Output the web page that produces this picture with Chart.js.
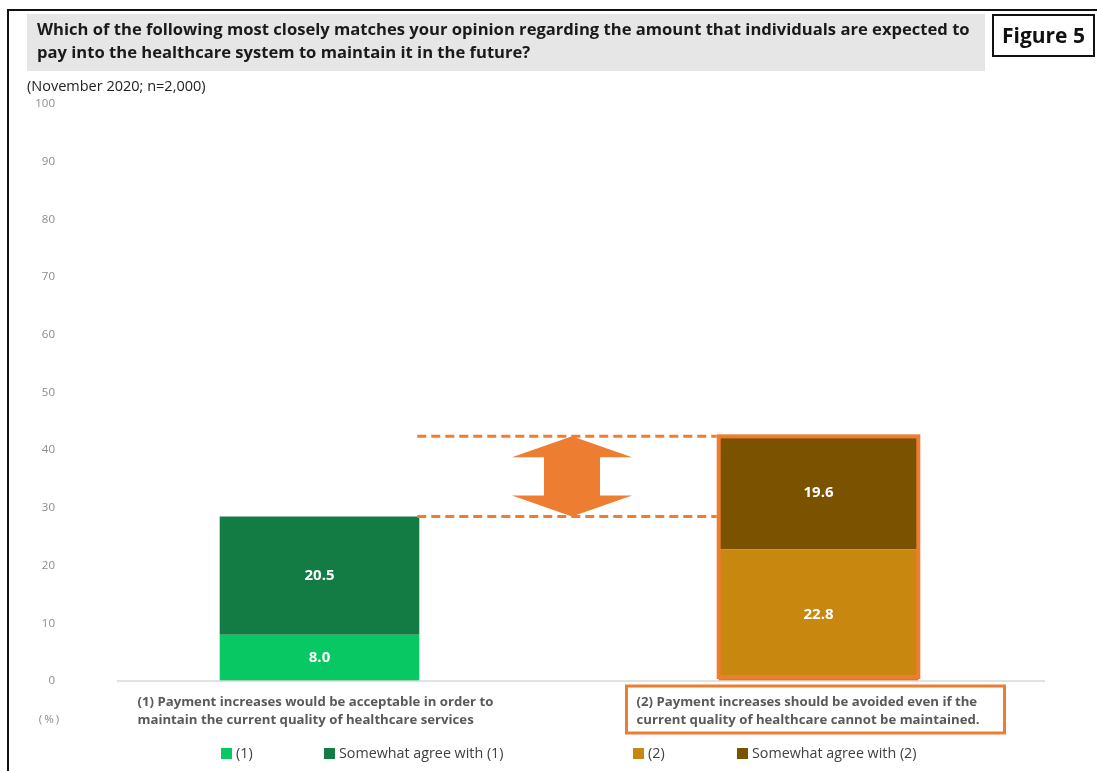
<!DOCTYPE html>
<html>
<head>
<meta charset="utf-8">
<script src="https://cdn.jsdelivr.net/npm/chart.js@4.4.1/dist/chart.umd.min.js"></script>
<style>
  html, body { margin: 0; padding: 0; background: #fff; }
  body { width: 1097px; height: 771px; position: relative; overflow: hidden; font-family: 'Open Sans', Lato, sans-serif; }
  #chartBox { position: absolute; left: 0; top: 0; width: 1097px; height: 771px; }
  #frame { position: absolute; left: 7px; top: 9px; width: 1100px; height: 780px; border-left: 2px solid #111; border-top: 2px solid #111; }
  #title { position: absolute; left: 27px; top: 14px; width: 958px; height: 57px; box-sizing: border-box; background: #E7E6E6;
           padding: 3px 0 0 10px; font-weight: bold; font-size: 16.6px; line-height: 23px; color: #1a1a1a; white-space: nowrap; }
  #fig { position: absolute; left: 992px; top: 14px; width: 103px; height: 43px; box-sizing: border-box; border: 2px solid #111;
         font-weight: bold; font-size: 21px; line-height: 39px; text-align: center; color: #111; }
  #sub { position: absolute; left: 27px; top: 76px; font-size: 14.5px; color: #222; }
</style>
</head>
<body>
<div id="chartBox"><canvas id="chart" width="1097" height="771"></canvas></div>
<div id="frame"></div>
<div id="title">Which of the following most closely matches your opinion regarding the amount that individuals are expected to<br>pay into the healthcare system to maintain it in the future?</div>
<div id="fig">Figure 5</div>
<div id="sub">(November 2020; n=2,000)</div>

<script>
// ---------------- Data ----------------
const categories = [
  ['(1) Payment increases would be acceptable in order to', 'maintain the current quality of healthcare services'],
  ['(2) Payment increases should be avoided even if the', 'current quality of healthcare cannot be maintained.']
];
const seriesNames = ['(1)', 'Somewhat agree with (1)', '(2)', 'Somewhat agree with (2)'];
const agreeOne = [8.0, null];
const somewhatOne = [20.5, null];
const agreeTwo = [null, 22.8];
const somewhatTwo = [null, 19.6];
const yMin = 0, yMax = 100, yStep = 10;

const seriesColors = ['#07C862', '#127C44', '#C8870F', '#7B5200'];
const ORANGE = '#ED7D31';
const FONT = '"Open Sans", Lato, sans-serif';

// extras drawn on top of the bars: baseline, comparison arrow, labels, legend
const extras = {
  id: 'extras',
  afterDatasetsDraw(chart) {
    const ctx = chart.ctx;
    const y = chart.scales.y;
    const base = y.getPixelForValue(0);

    // baseline
    ctx.save();
    ctx.strokeStyle = '#D9D9D9';
    ctx.lineWidth = 1.5;
    ctx.beginPath();
    ctx.moveTo(117, base);
    ctx.lineTo(1045, base);
    ctx.stroke();

    // value labels inside the segments
    ctx.fillStyle = '#fff';
    ctx.font = 'bold 15px ' + FONT;
    ctx.textAlign = 'center';
    ctx.textBaseline = 'middle';
    chart.data.datasets.forEach((ds, i) => {
      chart.getDatasetMeta(i).data.forEach((bar, j) => {
        if (ds.data[j] == null) return;
        ctx.fillText(ds.data[j].toFixed(1), bar.x, (bar.y + bar.base) / 2);
      });
    });

    // orange outline round the second stack
    const b2top = chart.getDatasetMeta(3).data[1];
    const b2bot = chart.getDatasetMeta(2).data[1];
    const half = b2top.width / 2;
    ctx.strokeStyle = ORANGE;
    ctx.lineWidth = 4;
    ctx.strokeRect(b2top.x - half, b2top.y, b2top.width, b2bot.base - b2top.y - 4);

    // dashed guides at both stack totals
    const b1top = chart.getDatasetMeta(1).data[0];
    const x0 = b1top.x + b1top.width / 2 - 2;
    const x1 = b2top.x - half - 2;
    const hiY = y.getPixelForValue(agreeTwo[1] + somewhatTwo[1]);
    const loY = y.getPixelForValue(agreeOne[0] + somewhatOne[0]);
    ctx.lineWidth = 3;
    ctx.setLineDash([9, 5]);
    [hiY, loY].forEach(py => {
      ctx.beginPath();
      ctx.moveTo(x0, py);
      ctx.lineTo(x1, py);
      ctx.stroke();
    });
    ctx.setLineDash([]);

    // double-headed block arrow between the guides
    const cx = (x0 + x1) / 2 + 5, hw = 60, sw = 28, hh = 21;
    ctx.fillStyle = ORANGE;
    ctx.beginPath();
    ctx.moveTo(cx, hiY);
    ctx.lineTo(cx + hw, hiY + hh);
    ctx.lineTo(cx + sw, hiY + hh);
    ctx.lineTo(cx + sw, loY - hh);
    ctx.lineTo(cx + hw, loY - hh);
    ctx.lineTo(cx, loY);
    ctx.lineTo(cx - hw, loY - hh);
    ctx.lineTo(cx - sw, loY - hh);
    ctx.lineTo(cx - sw, hiY + hh);
    ctx.lineTo(cx - hw, hiY + hh);
    ctx.closePath();
    ctx.fill();

    // category labels under the bars
    ctx.font = 'bold 13.2px ' + FONT;
    ctx.fillStyle = '#595959';
    ctx.textAlign = 'left';
    const centers = [b1top.x, b2top.x];
    categories.forEach((lines, i) => {
      const lx = centers[i] - 182;
      lines.forEach((t, k) => ctx.fillText(t, lx, 702 + k * 18));
    });
    ctx.strokeStyle = ORANGE;
    ctx.lineWidth = 3;
    ctx.strokeRect(centers[1] - 192, 686, 378, 47);

    // unit label
    ctx.font = '11.5px ' + FONT;
    ctx.fillStyle = '#8C8C8C';
    ctx.textAlign = 'center';
    ctx.letterSpacing = '2px';
    ctx.fillText('(%)', 50, 720);
    ctx.letterSpacing = '0px';

    // legend
    const legendX = [221, 324, 633, 737];
    ctx.font = '14.3px ' + FONT;
    ctx.textAlign = 'left';
    seriesNames.forEach((name, i) => {
      ctx.fillStyle = seriesColors[i];
      ctx.fillRect(legendX[i], 748, 11, 11);
      ctx.fillStyle = '#404040';
      ctx.fillText(name, legendX[i] + 15, 754);
    });
    ctx.restore();
  }
};

const datasets = [agreeOne, somewhatOne, agreeTwo, somewhatTwo].map((vals, i) => ({
  label: seriesNames[i],
  data: vals,
  backgroundColor: seriesColors[i],
  borderWidth: 0,
  categoryPercentage: 1,
  barPercentage: 0.4
}));

new Chart(document.getElementById('chart'), {
  type: 'bar',
  data: { labels: categories, datasets: datasets },
  options: {
    responsive: false,
    animation: false,
    layout: { padding: { left: 20, right: 29, top: 104, bottom: 90 } },
    plugins: { legend: { display: false }, tooltip: { enabled: false } },
    scales: {
      x: { stacked: true, display: false },
      y: {
        stacked: true,
        min: yMin,
        max: yMax,
        afterFit: s => { s.width = 50; },
        grid: { display: false, drawTicks: false },
        border: { display: false },
        ticks: { stepSize: yStep, padding: 15, color: '#8C8C8C', font: { family: FONT, size: 11.5 } }
      }
    }
  },
  plugins: [extras]
});
</script>
</body>
</html>
